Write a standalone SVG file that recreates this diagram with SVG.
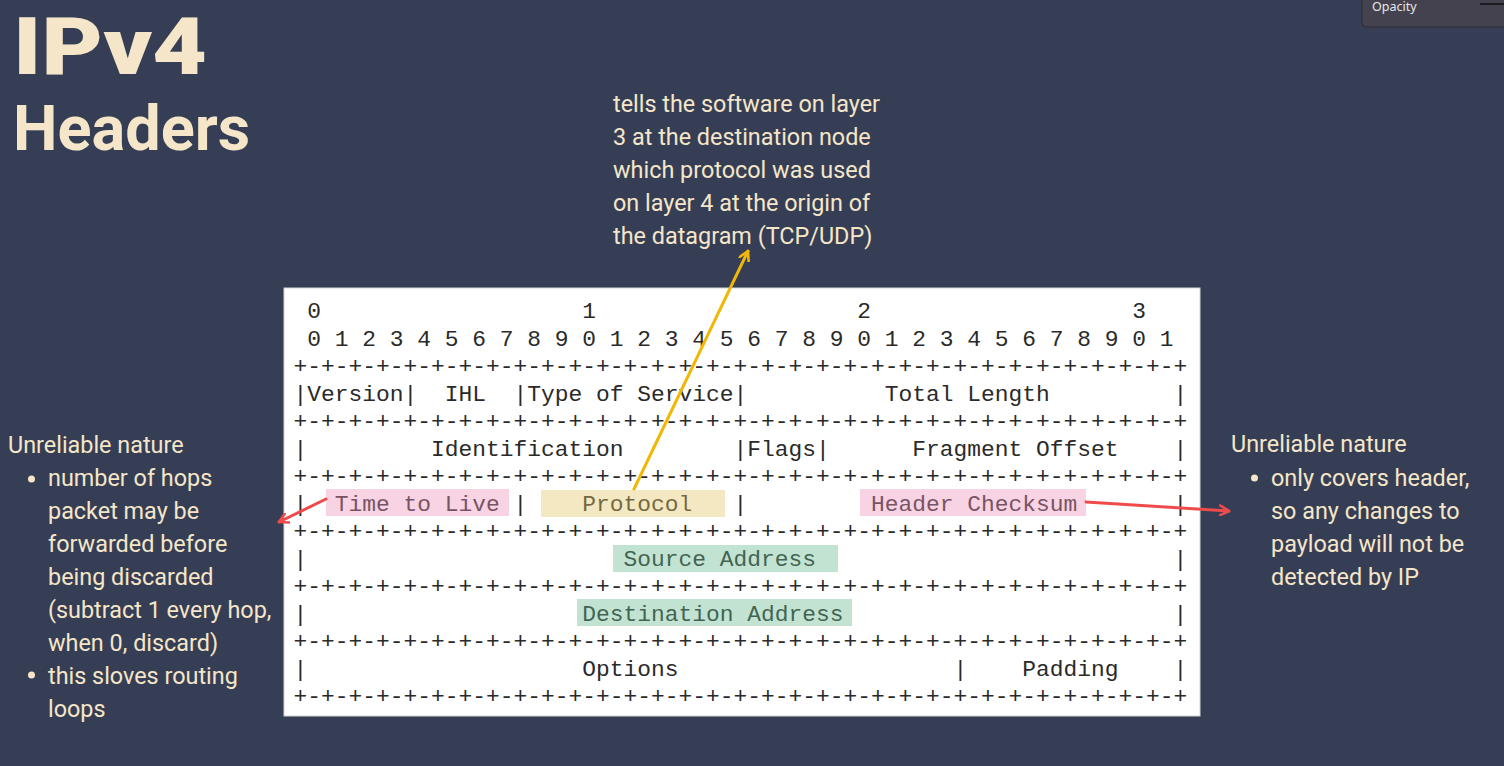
<svg xmlns="http://www.w3.org/2000/svg" width="1504" height="766" viewBox="0 0 1504 766">
<defs>
<style>
.bg{fill:#353e55}
.title{font-family:Roboto,"Liberation Sans",sans-serif;fill:#f5e6c9}
.note{font-family:Roboto,"Liberation Sans",sans-serif;font-size:23.4px;fill:#f5e6c9}
.mono{font-family:"Liberation Mono","DejaVu Sans Mono",monospace;font-size:22.9px;fill:#2a2a2a;white-space:pre}
.dot{fill:#f5e6c9}
.hl{opacity:0.4}
.red{stroke:#f04b4b;stroke-width:3;fill:none;stroke-linecap:round}
.yel{stroke:#f2b705;stroke-width:3;fill:none;stroke-linecap:round}
</style>
<marker id="arrRed" viewBox="0 0 12 12" refX="10" refY="6" markerWidth="12" markerHeight="12" markerUnits="userSpaceOnUse" orient="auto">
<path d="M1,1 L10,6 L1,11" fill="none" stroke="#f04b4b" stroke-width="2.6" stroke-linecap="round" stroke-linejoin="round"/>
</marker>
<marker id="arrYel" viewBox="0 0 12 12" refX="10" refY="6" markerWidth="12" markerHeight="12" markerUnits="userSpaceOnUse" orient="auto">
<path d="M1,1 L10,6 L1,11" fill="none" stroke="#f2b705" stroke-width="2.6" stroke-linecap="round" stroke-linejoin="round"/>
</marker>
</defs>
<rect class="bg" x="0" y="0" width="1504" height="766"/>

<g id="opacity-panel">
<rect x="1362" y="-8" width="150" height="35" rx="4" fill="#45424f" stroke="#2c2b33" stroke-width="1"/>
<text x="1372" y="11" font-family="'Noto Sans','Liberation Sans',sans-serif" font-size="12.5" fill="#e6e6e6">Opacity</text>
<line x1="1480" y1="4" x2="1504" y2="4" stroke="#111" stroke-width="1.5"/>
</g>

<g id="title">
<text class="title" x="13" y="74" font-size="79" font-weight="900" textLength="194" lengthAdjust="spacingAndGlyphs">IPv4</text>
<text class="title" x="13" y="150" font-size="63" font-weight="700">Headers</text>
</g>

<g id="note-protocol">
<text class="note" x="613" y="112">tells the software on layer</text>
<text class="note" x="613" y="145">3 at the destination node</text>
<text class="note" x="613" y="178">which protocol was used</text>
<text class="note" x="613" y="211">on layer 4 at the origin of</text>
<text class="note" x="613" y="244">the datagram (TCP/UDP)</text>
</g>

<g id="note-ttl">
<text class="note" x="8" y="453">Unreliable nature</text>
<circle class="dot" cx="31.5" cy="479" r="3.5"/>
<text class="note" x="48" y="486">number of hops</text>
<text class="note" x="48" y="519">packet may be</text>
<text class="note" x="48" y="552">forwarded before</text>
<text class="note" x="48" y="585">being discarded</text>
<text class="note" x="48" y="618">(subtract 1 every hop,</text>
<text class="note" x="48" y="651">when 0, discard)</text>
<circle class="dot" cx="31.5" cy="675" r="3.5"/>
<text class="note" x="48" y="684">this sloves routing</text>
<text class="note" x="48" y="717">loops</text>
</g>

<g id="note-checksum">
<text class="note" x="1231" y="452">Unreliable nature</text>
<circle class="dot" cx="1254.5" cy="478" r="3.5"/>
<text class="note" x="1271" y="486">only covers header,</text>
<text class="note" x="1271" y="519">so any changes to</text>
<text class="note" x="1271" y="552">payload will not be</text>
<text class="note" x="1271" y="585">detected by IP</text>
</g>

<g id="header-table">
<rect x="284" y="288" width="916" height="428" fill="#ffffff" stroke="#d4d4d4" stroke-width="1"/>
<text class="mono" x="293.5" y="318" textLength="852.5" lengthAdjust="spacing" xml:space="preserve"> 0                   1                   2                   3</text>
<text class="mono" x="293.5" y="345.5" textLength="880" lengthAdjust="spacing" xml:space="preserve"> 0 1 2 3 4 5 6 7 8 9 0 1 2 3 4 5 6 7 8 9 0 1 2 3 4 5 6 7 8 9 0 1</text>
<text class="mono" x="293.5" y="373" textLength="893.75" lengthAdjust="spacing" xml:space="preserve">+-+-+-+-+-+-+-+-+-+-+-+-+-+-+-+-+-+-+-+-+-+-+-+-+-+-+-+-+-+-+-+-+</text>
<text class="mono" x="293.5" y="400.5" textLength="893.75" lengthAdjust="spacing" xml:space="preserve">|Version|  IHL  |Type of Service|          Total Length         |</text>
<text class="mono" x="293.5" y="428" textLength="893.75" lengthAdjust="spacing" xml:space="preserve">+-+-+-+-+-+-+-+-+-+-+-+-+-+-+-+-+-+-+-+-+-+-+-+-+-+-+-+-+-+-+-+-+</text>
<text class="mono" x="293.5" y="455.5" textLength="893.75" lengthAdjust="spacing" xml:space="preserve">|         Identification        |Flags|      Fragment Offset    |</text>
<text class="mono" x="293.5" y="483" textLength="893.75" lengthAdjust="spacing" xml:space="preserve">+-+-+-+-+-+-+-+-+-+-+-+-+-+-+-+-+-+-+-+-+-+-+-+-+-+-+-+-+-+-+-+-+</text>
<text class="mono" x="293.5" y="510.5" textLength="893.75" lengthAdjust="spacing" xml:space="preserve">|  Time to Live |    Protocol   |         Header Checksum       |</text>
<text class="mono" x="293.5" y="538" textLength="893.75" lengthAdjust="spacing" xml:space="preserve">+-+-+-+-+-+-+-+-+-+-+-+-+-+-+-+-+-+-+-+-+-+-+-+-+-+-+-+-+-+-+-+-+</text>
<text class="mono" x="293.5" y="565.5" textLength="893.75" lengthAdjust="spacing" xml:space="preserve">|                       Source Address                          |</text>
<text class="mono" x="293.5" y="593" textLength="893.75" lengthAdjust="spacing" xml:space="preserve">+-+-+-+-+-+-+-+-+-+-+-+-+-+-+-+-+-+-+-+-+-+-+-+-+-+-+-+-+-+-+-+-+</text>
<text class="mono" x="293.5" y="620.5" textLength="893.75" lengthAdjust="spacing" xml:space="preserve">|                    Destination Address                        |</text>
<text class="mono" x="293.5" y="648" textLength="893.75" lengthAdjust="spacing" xml:space="preserve">+-+-+-+-+-+-+-+-+-+-+-+-+-+-+-+-+-+-+-+-+-+-+-+-+-+-+-+-+-+-+-+-+</text>
<text class="mono" x="293.5" y="675.5" textLength="893.75" lengthAdjust="spacing" xml:space="preserve">|                    Options                    |    Padding    |</text>
<text class="mono" x="293.5" y="703" textLength="893.75" lengthAdjust="spacing" xml:space="preserve">+-+-+-+-+-+-+-+-+-+-+-+-+-+-+-+-+-+-+-+-+-+-+-+-+-+-+-+-+-+-+-+-+</text>
<rect id="hl-ttl" class="hl" x="326" y="489" width="183" height="27" fill="#ee91b9"/>
<rect id="hl-protocol" class="hl" x="541" y="490" width="184" height="27" fill="#e1c564"/>
<rect id="hl-checksum" class="hl" x="860" y="489" width="226" height="27" fill="#ee91b9"/>
<rect id="hl-source" class="hl" x="613" y="545" width="225" height="27" fill="#66b98e"/>
<rect id="hl-dest" class="hl" x="577" y="599" width="275" height="27" fill="#66b98e"/>
</g>

<g id="connectors">
<line class="yel" x1="634" y1="489" x2="748" y2="251" marker-end="url(#arrYel)"/>
<line class="red" x1="326" y1="499" x2="279" y2="522" marker-end="url(#arrRed)"/>
<line class="red" x1="1086" y1="502" x2="1229" y2="511" marker-end="url(#arrRed)"/>
</g>
</svg>
